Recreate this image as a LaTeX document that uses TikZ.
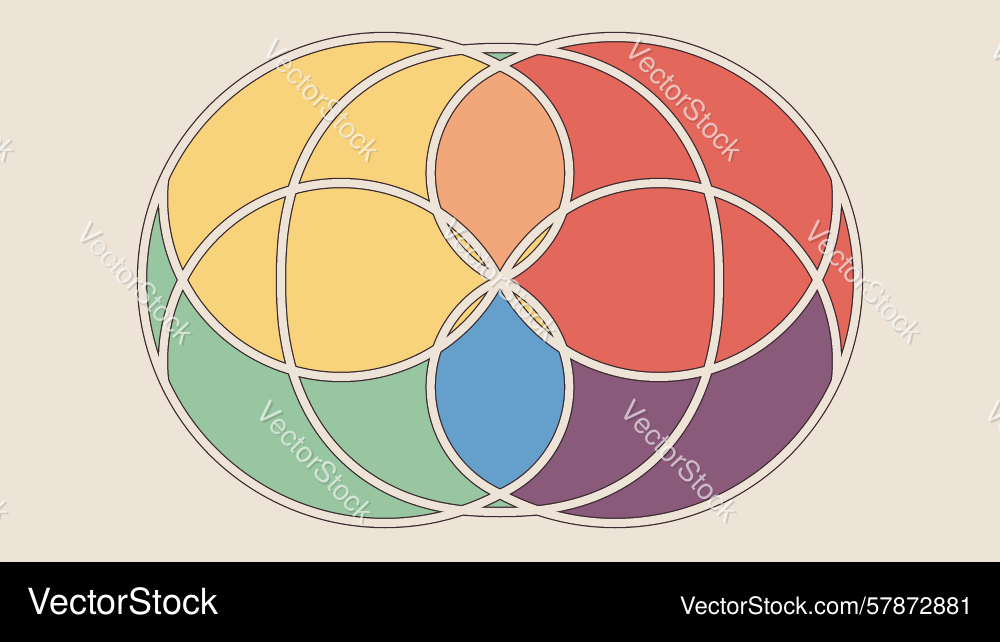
\documentclass[tikz,border=0pt]{standalone}
\usepackage{fontspec}
\newfontfamily\heros{TeX Gyre Heros}
\definecolor{bg}{HTML}{EDE4D7}
\definecolor{outl}{HTML}{3B2A2F}
\definecolor{yl}{HTML}{F9D37B}
\definecolor{orng}{HTML}{F2A77A}
\definecolor{rd}{HTML}{E4675C}
\definecolor{gr}{HTML}{98C6A0}
\definecolor{blu}{HTML}{64A0CB}
\definecolor{pu}{HTML}{8A5A7B}
% band centre lines (px units, y downwards)
\def\mypathA{plot[domain=-61.75:-298.25,samples=160] ({385+243*cos(\x)},{280+243*sin(\x)})
 -- plot[domain=65.8:-65.8,samples=60] ({452+117.3*cos(\x)},{387+117.3*sin(\x)})
 -- plot[domain=114.2:245.8,samples=60] ({548+117.3*cos(\x)},{173+117.3*sin(\x)})
 -- plot[domain=241.75:478.25,samples=160] ({615+243*cos(\x)},{280+243*sin(\x)})
 -- plot[domain=114.2:245.8,samples=60] ({548+117.3*cos(\x)},{387+117.3*sin(\x)})
 -- plot[domain=65.8:-65.8,samples=60] ({452+117.3*cos(\x)},{173+117.3*sin(\x)}) -- cycle}
\def\mypathE{plot[domain=0:90,samples=50] ({500+219*pow(abs(cos(\x))+0.00001,0.8696)},{280-232*pow(abs(sin(\x))+0.00001,0.8696)})
 -- plot[domain=90:0,samples=50] ({500-219*pow(abs(cos(\x))+0.00001,0.8696)},{280-232*pow(abs(sin(\x))+0.00001,0.8696)})
 -- plot[domain=0:90,samples=50] ({500-219*pow(abs(cos(\x))+0.00001,0.8696)},{280+232*pow(abs(sin(\x))+0.00001,0.8696)})
 -- plot[domain=90:0,samples=50] ({500+219*pow(abs(cos(\x))+0.00001,0.8696)},{280+232*pow(abs(sin(\x))+0.00001,0.8696)}) -- cycle}
\def\mypathCa{plot[domain=173.4:333,samples=90] ({341+178*cos(\x)},{361+178*sin(\x)})
 -- plot[domain=153:-6.6,samples=90] ({659+178*cos(\x)},{199+178*sin(\x)})}
\def\mypathCb{plot[domain=6.6:-153,samples=90] ({659+178*cos(\x)},{361+178*sin(\x)})
 -- plot[domain=27:186.6,samples=90] ({341+178*cos(\x)},{199+178*sin(\x)})}
\tikzset{
 darkband/.style={draw=outl, line width=10.5pt, line cap=round, line join=round},
 beigeband/.style={draw=bg, line width=8pt, line cap=round, line join=round},
 wm/.style={font=\heros\fontsize{29}{29}\selectfont, text=white, opacity=0.6, inner sep=0pt, rotate=-46},
 wmsh/.style={font=\heros\fontsize{29}{29}\selectfont, text=black, opacity=0.12, inner sep=0pt, rotate=-46},
}
\begin{document}
\begin{tikzpicture}[x=1pt,y=-1pt]
\useasboundingbox (0,0) rectangle (1000,642);
\clip (0,0) rectangle (1000,642);
\fill[bg] (0,0) rectangle (1000,642);
% outer zones
\fill[gr] (385,280) circle (243pt);
\fill[rd] (615,280) circle (243pt);
\begin{scope}\clip (341,199) circle (178pt); \fill[yl] (385,280) circle (243pt); \end{scope}
\begin{scope}\clip (659,361) circle (178pt); \fill[pu] (615,280) circle (243pt); \end{scope}
\begin{scope}\clip (659,199) circle (178pt); \fill[rd] (615,280) circle (243pt); \end{scope}
% inside the oval
\begin{scope}
 \clip \mypathE;
 \fill[yl] (0,0) rectangle (500,280);
 \fill[gr] (0,280) rectangle (500,642);
 \fill[rd] (500,0) rectangle (1000,280);
 \fill[pu] (500,280) rectangle (1000,642);
 \begin{scope}\clip (341,361) circle (178pt); \fill[yl] (341,199) circle (178pt); \end{scope}
 \begin{scope}\clip (659,361) circle (178pt); \fill[rd] (659,199) circle (178pt); \end{scope}
 \begin{scope}\clip (440,20) rectangle (560,64);
  \fill[gr, even odd rule] (420,0) rectangle (580,90) (385,280) circle (243pt) (615,280) circle (243pt);
 \end{scope}
 \begin{scope}\clip (440,496) rectangle (560,540);
  \fill[gr, even odd rule] (420,470) rectangle (580,560) (385,280) circle (243pt) (615,280) circle (243pt);
 \end{scope}
\end{scope}
% central lenses
\begin{scope}\clip (548,173) circle (117.3pt); \fill[orng] (452,173) circle (117.3pt); \end{scope}
\begin{scope}\clip (548,387) circle (117.3pt); \fill[blu] (452,387) circle (117.3pt); \end{scope}
% petals
\begin{scope}\clip (341,361) circle (178pt); \fill[yl] (548,173) circle (117.3pt); \end{scope}
\begin{scope}\clip (659,361) circle (178pt); \fill[yl] (452,173) circle (117.3pt); \end{scope}
\begin{scope}\clip (341,199) circle (178pt); \fill[yl] (548,387) circle (117.3pt); \end{scope}
\begin{scope}\clip (659,199) circle (178pt); \fill[yl] (452,387) circle (117.3pt); \end{scope}
% bands
\draw[darkband] \mypathA;
\draw[darkband] \mypathE;
\draw[darkband] \mypathCa;
\draw[darkband] \mypathCb;
\draw[beigeband] \mypathA;
\draw[beigeband] \mypathE;
\draw[beigeband] \mypathCa;
\draw[beigeband] \mypathCb;
% watermark
\foreach \i/\px/\py in {1/322/100,2/685/100,3/136/283,4/500/280,5/864/282,6/316/462,7/680/461,8/-42/100,9/1049/100,10/-48/462,11/1044/462}{
  \node[wmsh] (ws\i) at (\px+1.2,\py+1.2) {VectorStock};
  \node[wm] (w\i) at (\px,\py) {VectorStock};
}
% bottom bar
\fill[black] (0,562) rectangle (1000,642);
\node[anchor=base west, inner sep=0pt, text=white, font=\heros\fontsize{36}{36}\selectfont] (logo) at (27,614) {VectorStock};
\node[anchor=base east, inner sep=0pt, text=white, font=\heros\fontsize{24}{24}\selectfont] (url) at (973,614) {VectorStock.com/57872881};
\end{tikzpicture}
\end{document}
